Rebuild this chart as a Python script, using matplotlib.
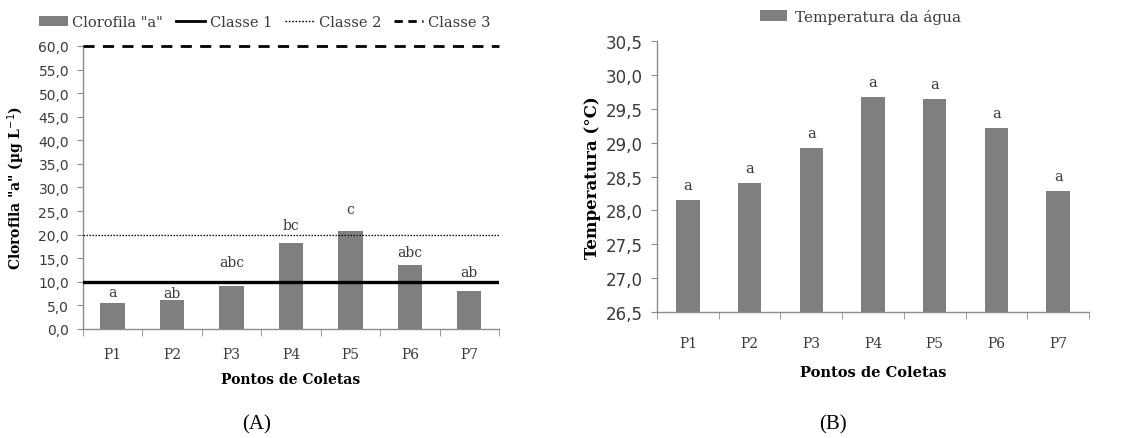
import matplotlib
matplotlib.use("Agg")
import matplotlib.pyplot as plt
from matplotlib.ticker import FuncFormatter, FixedLocator
from matplotlib.patches import Patch
from matplotlib.lines import Line2D
import numpy as np

########## Data ##########

pontos = ["P1", "P2", "P3", "P4", "P5", "P6", "P7"]

clorofila = [5.6, 6.1, 9.2, 18.2, 20.8, 13.6, 8.0]
clorofila_letras = ["a", "ab", "abc", "bc", "c", "abc", "ab"]
clorofila_letras_y = [7.8, 7.6, 14.2, 22.0, 25.4, 16.3, 12.1]

classe_1 = 10.0
classe_2 = 20.0
classe_3 = 60.0

temperatura = [28.16, 28.40, 28.92, 29.67, 29.64, 29.22, 28.29]
temperatura_letras = ["a", "a", "a", "a", "a", "a", "a"]

##########################

BAR_COLOR = "#7f7f7f"
AXIS_COLOR = "#8c8c8c"
TEXT_COLOR = "#3a3a3a"
SERIF = "DejaVu Serif"
SANS = "DejaVu Sans"
CAPTION_FONT = "Liberation Serif"

comma = FuncFormatter(lambda v, _: f"{v:.1f}".replace(".", ","))


def style_axes(ax, n, ysize, xpad):
    for side in ("top", "right"):
        ax.spines[side].set_visible(False)
    for side in ("left", "bottom"):
        ax.spines[side].set_color(AXIS_COLOR)
        ax.spines[side].set_linewidth(1.0)
    ax.set_xlim(-0.5, n - 0.5)
    ax.set_xticks(np.arange(n))
    ax.set_xticklabels(pontos)
    # category boundaries get the tick marks, labels sit in between
    ax.xaxis.set_minor_locator(FixedLocator(np.arange(n + 1) - 0.5))
    ax.tick_params(axis="x", which="major", length=0, pad=xpad, labelsize=10, labelcolor=TEXT_COLOR)
    ax.tick_params(axis="x", which="minor", length=5, color=AXIS_COLOR, direction="out")
    ax.tick_params(axis="y", length=4, color=AXIS_COLOR, labelsize=ysize, labelcolor=TEXT_COLOR, pad=6)
    for lbl in ax.get_xticklabels():
        lbl.set_fontfamily(SERIF)
    for lbl in ax.get_yticklabels():
        lbl.set_fontfamily(SANS)
    ax.yaxis.set_major_formatter(comma)


fig = plt.figure(figsize=(11.35, 4.39), dpi=100)
n = len(pontos)
x = np.arange(n)

#### (A) Clorofila "a" ####

ax_a = fig.add_axes([0.0731, 0.2483, 0.3665, 0.6447])
ax_a.bar(x, clorofila, width=0.41, color=BAR_COLOR, zorder=2)
ax_a.axhline(classe_1, color="black", lw=2.4, zorder=3)
ax_a.axhline(classe_2, color="black", lw=0.9, ls=(0, (1.2, 1.2)), zorder=3)
ax_a.axhline(classe_3, color="black", lw=2.0, ls=(0, (4, 3)), zorder=3, clip_on=False)
ax_a.set_ylim(0, 60)
ax_a.set_yticks(np.arange(0, 61, 5))
style_axes(ax_a, n, ysize=10, xpad=13)

for xi, letra, yl in zip(x, clorofila_letras, clorofila_letras_y):
    ax_a.text(xi, yl, letra, ha="center", va="center", fontsize=10,
              family=SERIF, color=TEXT_COLOR)

ax_a.set_xlabel("Pontos de Coletas", fontsize=10, fontweight="bold",
                family=SERIF, labelpad=8)
ax_a.set_ylabel('Clorofila "a" (µg L$^{-1}$)', fontsize=10, fontweight="bold",
                family=SERIF, labelpad=8)

handles_a = [
    Patch(facecolor=BAR_COLOR, edgecolor="none"),
    Line2D([], [], color="black", lw=2.0),
    Line2D([], [], color="black", lw=1.0, ls=(0, (1.2, 1.2))),
    Line2D([], [], color="black", lw=2.0, ls=(0, (3, 2))),
]
labels_a = ['Clorofila "a"', "Classe 1", "Classe 2", "Classe 3"]
fig.legend(handles_a, labels_a, loc="center", bbox_to_anchor=(0.233, 0.948),
           ncol=4, frameon=False, handlelength=2.0, handletextpad=0.3,
           columnspacing=0.9, prop={"family": SERIF, "size": 10.5},
           labelcolor=TEXT_COLOR)

#### (B) Temperatura da água ####

ax_b = fig.add_axes([0.5789, 0.287, 0.3806, 0.6173])
ax_b.bar(x, temperatura, width=0.38, color=BAR_COLOR, zorder=2, label="Temperatura da água")
ax_b.set_ylim(26.5, 30.5)
ax_b.set_yticks(np.arange(26.5, 30.51, 0.5))
style_axes(ax_b, n, ysize=12, xpad=17)

for xi, letra, t in zip(x, temperatura_letras, temperatura):
    ax_b.text(xi, t + 0.22, letra, ha="center", va="center", fontsize=10.5,
              family=SERIF, color=TEXT_COLOR)

ax_b.set_xlabel("Pontos de Coletas", fontsize=10.5, fontweight="bold",
                family=SERIF, labelpad=11)
ax_b.set_ylabel("Temperatura (°C)", fontsize=12, fontweight="bold",
                family=SERIF, labelpad=4)
ax_b.legend(loc="center", bbox_to_anchor=(0.47, 1.09), frameon=False,
            handlelength=1.8, handletextpad=0.5,
            prop={"family": SERIF, "size": 11}, labelcolor=TEXT_COLOR)

#### Captions ####

fig.text(257 / 1135, 1 - 425 / 439, "(A)", ha="center", va="center",
         fontsize=15, family=CAPTION_FONT)
fig.text(833 / 1135, 1 - 425 / 439, "(B)", ha="center", va="center",
         fontsize=15, family=CAPTION_FONT)

fig.savefig("out.png", dpi=100)
